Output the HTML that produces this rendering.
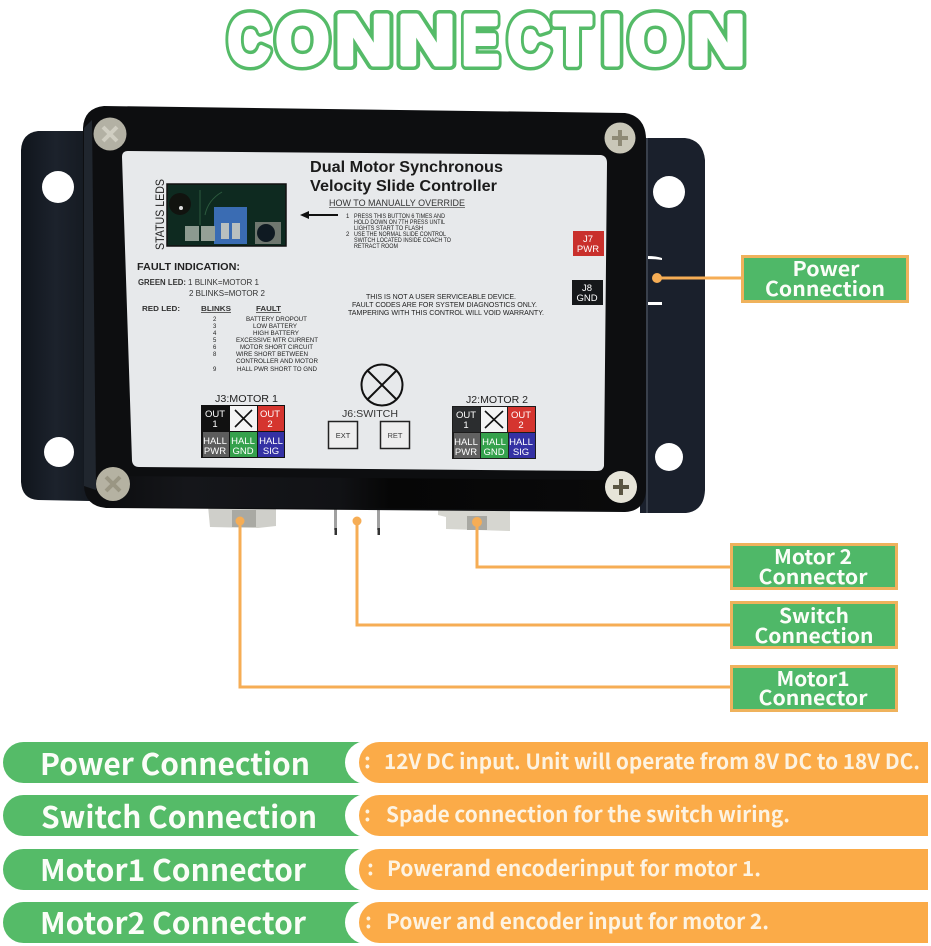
<!DOCTYPE html>
<html><head><meta charset="utf-8">
<style>
html,body{margin:0;padding:0;background:#fff;width:931px;height:946px;overflow:hidden}
svg{display:block}
text{font-family:"Liberation Sans",sans-serif}
.n{font-family:"Noto Sans CJK SC","Liberation Sans",sans-serif;font-weight:700;fill:#fbfdf8}
.o{font-family:"Noto Sans CJK SC","Liberation Sans",sans-serif;font-weight:700;fill:#fdf3e2;font-size:21px}
.t1{font-family:"Liberation Sans",sans-serif;font-weight:700;font-size:70px;fill:#55bb68;stroke:#55bb68;stroke-width:12;stroke-linejoin:round}
.t2{font-family:"Liberation Sans",sans-serif;font-weight:700;font-size:70px;fill:#fff;stroke:#fff;stroke-width:5;stroke-linejoin:round}
.s{font-size:6px;fill:#222}
.c{font-size:9.5px;fill:#fff;text-anchor:middle}
</style></head><body>
<svg width="931" height="946" viewBox="0 0 931 946" xmlns="http://www.w3.org/2000/svg">
<defs>
<linearGradient id="band" x1="0" y1="0" x2="1" y2="0">
<stop offset="0" stop-color="#0d0e10"/><stop offset="0.15" stop-color="#15161a"/><stop offset="0.45" stop-color="#111215"/><stop offset="0.55" stop-color="#060606"/><stop offset="1" stop-color="#0a0a0b"/>
</linearGradient>
<linearGradient id="lp" x1="0" y1="0" x2="1" y2="0">
<stop offset="0" stop-color="#10151c"/><stop offset="0.5" stop-color="#1c222c"/><stop offset="1" stop-color="#141920"/>
</linearGradient>
</defs>
<rect width="931" height="946" fill="#fff"/>

<!-- title -->
<g id="title">
<text class="t1" x="228" y="64" textLength="42" lengthAdjust="spacingAndGlyphs">C</text><text class="t2" x="228" y="64" textLength="42" lengthAdjust="spacingAndGlyphs">C</text>
<text class="t1" x="276" y="64" textLength="53" lengthAdjust="spacingAndGlyphs">O</text><text class="t2" x="276" y="64" textLength="53" lengthAdjust="spacingAndGlyphs">O</text>
<text class="t1" x="335" y="64" textLength="57" lengthAdjust="spacingAndGlyphs">N</text><text class="t2" x="335" y="64" textLength="57" lengthAdjust="spacingAndGlyphs">N</text>
<text class="t1" x="398" y="64" textLength="57" lengthAdjust="spacingAndGlyphs">N</text><text class="t2" x="398" y="64" textLength="57" lengthAdjust="spacingAndGlyphs">N</text>
<text class="t1" x="462" y="64" textLength="37" lengthAdjust="spacingAndGlyphs">E</text><text class="t2" x="462" y="64" textLength="37" lengthAdjust="spacingAndGlyphs">E</text>
<text class="t1" x="508" y="64" textLength="42" lengthAdjust="spacingAndGlyphs">C</text><text class="t2" x="508" y="64" textLength="42" lengthAdjust="spacingAndGlyphs">C</text>
<text class="t1" x="554" y="64" textLength="37" lengthAdjust="spacingAndGlyphs">T</text><text class="t2" x="554" y="64" textLength="37" lengthAdjust="spacingAndGlyphs">T</text>
<text class="t1" x="602" y="64" textLength="20" lengthAdjust="spacingAndGlyphs">I</text><text class="t2" x="602" y="64" textLength="20" lengthAdjust="spacingAndGlyphs">I</text>
<text class="t1" x="629" y="64" textLength="53" lengthAdjust="spacingAndGlyphs">O</text><text class="t2" x="629" y="64" textLength="53" lengthAdjust="spacingAndGlyphs">O</text>
<text class="t1" x="690" y="64" textLength="55" lengthAdjust="spacingAndGlyphs">N</text><text class="t2" x="690" y="64" textLength="55" lengthAdjust="spacingAndGlyphs">N</text>
</g>

<!-- connectors under the box -->
<polygon points="208,506 276,506 276,526 258,528 210,527" fill="#cfcfca"/>
<rect x="232" y="510" width="24" height="17" fill="#a9a9a3"/>
<polygon points="438,510 510,510 510,531 446,529 446,517 438,515" fill="#d6d6d0"/>
<rect x="467" y="516" width="20" height="14" fill="#a8a8a2"/>
<rect x="334" y="508" width="3" height="22" fill="#a0a0a0"/>
<rect x="377" y="508" width="3" height="22" fill="#a0a0a0"/>
<rect x="334.5" y="528" width="2.5" height="7" fill="#333"/>
<rect x="377.5" y="528" width="2.5" height="7" fill="#333"/>

<!-- mounting plate -->
<path d="M90,131 L38,131 Q22,133 21,150 L21,482 Q22,499 38,500 L90,501 Z" fill="url(#lp)"/>
<path d="M640,138 L685,138 Q703,140 705,160 L705,490 Q704,511 686,513 L640,513 Z" fill="#1a202c"/>
<circle cx="58" cy="187" r="16" fill="#fff"/>
<circle cx="669" cy="192" r="16" fill="#fff"/>
<circle cx="59" cy="452" r="15" fill="#fff"/>
<circle cx="669" cy="457" r="14" fill="#fff"/>
<path d="M648,256 Q656,256 662,258 L662,260 Q656,259 648,259 Z" fill="#fff"/>
<path d="M648,302 Q656,302 662,302 L662,305 Q656,305 648,305 Z" fill="#fff"/>
<rect x="646" y="138" width="2" height="375" fill="#39404c"/>

<!-- main box -->
<path d="M104,106 L625,113 Q645,116 646,138 L646,490 Q645,511 625,512 L106,508 Q85,506 84,486 L83,128 Q84,108 104,106 Z" fill="#0d0e10"/>
<path d="M84,128 L84,486 L96,490 L92,120 Z" fill="#20262e"/>
<path d="M110,476 L620,480 L620,510 L110,507 Z" fill="url(#band)"/>

<!-- label -->
<path d="M128,151 L601,155 Q607,156 607,163 L604,466 Q603,471 597,471 L139,467 Q133,467 132,461 L122,157 Q122,151 128,151 Z" fill="#e7e9eb"/>

<!-- screws -->
<g>
<circle cx="110" cy="134" r="16.5" fill="#b3b1a4"/>
<path d="M103,127 L117,141 M117,127 L103,141" stroke="#d0cec2" stroke-width="4"/>
<circle cx="620" cy="138" r="15.5" fill="#c9c7b8"/>
<path d="M612,138 H628 M620,130 V146" stroke="#8e8a76" stroke-width="4"/>
<circle cx="113" cy="484" r="17" fill="#b5b2a2"/>
<path d="M106,477 L120,491 M120,477 L106,491" stroke="#9a9683" stroke-width="4"/>
<circle cx="621" cy="487" r="16" fill="#e6e4d8"/>
<path d="M613,487 H629 M621,479 V495" stroke="#5a5542" stroke-width="4"/>
</g>

<!-- PCB photo -->
<rect x="167" y="184" width="119" height="62" fill="#0e2a20"/>
<rect x="167" y="184" width="119" height="62" fill="none" stroke="#111" stroke-width="1.5"/>
<circle cx="180" cy="204" r="11" fill="#11130f"/>
<circle cx="181" cy="208" r="2" fill="#ddd"/>
<path d="M200,190 V225 M205,215 Q208,200 222,192" stroke="#2c5a3e" fill="none"/>
<rect x="214" y="207" width="33" height="37" fill="#3a6cb3"/>
<rect x="221" y="223" width="8" height="16" fill="#b9c0bf"/>
<rect x="232" y="223" width="8" height="16" fill="#b9c0bf"/>
<rect x="185" y="226" width="14" height="15" fill="#8c9a90"/>
<rect x="201" y="226" width="14" height="15" fill="#95a096"/>
<rect x="255" y="222" width="26" height="22" fill="#6f776f"/>
<circle cx="266" cy="233" r="9" fill="#0f1a22"/>
<text x="0" y="0" transform="translate(164,250) rotate(-90)" font-size="11.5" fill="#222" textLength="71" lengthAdjust="spacingAndGlyphs">STATUS LEDS</text>

<!-- label text -->
<text x="310" y="172" font-size="16" font-weight="700" fill="#1b1b1b" textLength="193" lengthAdjust="spacingAndGlyphs">Dual Motor Synchronous</text>
<text x="310" y="191" font-size="16" font-weight="700" fill="#1b1b1b" textLength="187" lengthAdjust="spacingAndGlyphs">Velocity Slide Controller</text>
<text x="329" y="206" font-size="9.5" fill="#333" textLength="136" lengthAdjust="spacingAndGlyphs">HOW TO MANUALLY OVERRIDE</text>
<line x1="329" y1="207.5" x2="465" y2="207.5" stroke="#555" stroke-width="0.7"/>
<path d="M338,215 H305" stroke="#111" stroke-width="2"/><path d="M300,215 L309,211 L309,219 Z" fill="#111"/>
<text class="s" x="346" y="218">1</text>
<text class="s" x="354" y="218" textLength="91" lengthAdjust="spacingAndGlyphs">PRESS THIS BUTTON 6 TIMES AND</text>
<text class="s" x="354" y="224" textLength="91" lengthAdjust="spacingAndGlyphs">HOLD DOWN ON 7TH PRESS UNTIL</text>
<text class="s" x="354" y="230" textLength="69" lengthAdjust="spacingAndGlyphs">LIGHTS START TO FLASH</text>
<text class="s" x="346" y="236">2</text>
<text class="s" x="354" y="236" textLength="92" lengthAdjust="spacingAndGlyphs">USE THE NORMAL SLIDE CONTROL</text>
<text class="s" x="354" y="242" textLength="97" lengthAdjust="spacingAndGlyphs">SWITCH LOCATED INSIDE COACH TO</text>
<text class="s" x="354" y="248" textLength="44" lengthAdjust="spacingAndGlyphs">RETRACT ROOM</text>

<text x="137" y="270" font-size="10.5" font-weight="700" fill="#222" textLength="103" lengthAdjust="spacingAndGlyphs">FAULT INDICATION:</text>
<text x="138" y="285" font-size="8" font-weight="700" fill="#333" textLength="48" lengthAdjust="spacingAndGlyphs">GREEN LED:</text>
<text x="188" y="285" font-size="8" fill="#333" textLength="71" lengthAdjust="spacingAndGlyphs">1 BLINK=MOTOR 1</text>
<text x="189" y="296" font-size="8" fill="#333" textLength="76" lengthAdjust="spacingAndGlyphs">2 BLINKS=MOTOR 2</text>
<text x="142" y="311" font-size="7.5" font-weight="700" fill="#333" textLength="38" lengthAdjust="spacingAndGlyphs">RED LED:</text>
<text x="201" y="311" font-size="7.5" font-weight="700" fill="#333" textLength="30" lengthAdjust="spacingAndGlyphs" text-decoration="underline">BLINKS</text>
<text x="256" y="311" font-size="7.5" font-weight="700" fill="#333" textLength="25" lengthAdjust="spacingAndGlyphs" text-decoration="underline">FAULT</text>
<g class="rows">
<text class="s" x="213" y="321">2</text><text class="s" x="246" y="321" textLength="61" lengthAdjust="spacingAndGlyphs">BATTERY DROPOUT</text>
<text class="s" x="213" y="328">3</text><text class="s" x="253" y="328" textLength="44" lengthAdjust="spacingAndGlyphs">LOW BATTERY</text>
<text class="s" x="213" y="335">4</text><text class="s" x="253" y="335" textLength="46" lengthAdjust="spacingAndGlyphs">HIGH BATTERY</text>
<text class="s" x="213" y="342">5</text><text class="s" x="236" y="342" textLength="82" lengthAdjust="spacingAndGlyphs">EXCESSIVE MTR CURRENT</text>
<text class="s" x="213" y="349">6</text><text class="s" x="240" y="349" textLength="73" lengthAdjust="spacingAndGlyphs">MOTOR SHORT CIRCUIT</text>
<text class="s" x="213" y="356">8</text><text class="s" x="236" y="356" textLength="72" lengthAdjust="spacingAndGlyphs">WIRE SHORT BETWEEN</text>
<text class="s" x="236" y="363" textLength="82" lengthAdjust="spacingAndGlyphs">CONTROLLER AND MOTOR</text>
<text class="s" x="213" y="371">9</text><text class="s" x="237" y="371" textLength="80" lengthAdjust="spacingAndGlyphs">HALL PWR SHORT TO GND</text>
</g>
<text x="366" y="299" font-size="7" fill="#222" textLength="150" lengthAdjust="spacingAndGlyphs">THIS IS NOT A USER SERVICEABLE DEVICE.</text>
<text x="352" y="307" font-size="7" fill="#222" textLength="185" lengthAdjust="spacingAndGlyphs">FAULT CODES ARE FOR SYSTEM DIAGNOSTICS ONLY.</text>
<text x="348" y="315" font-size="7" fill="#222" textLength="196" lengthAdjust="spacingAndGlyphs">TAMPERING WITH THIS CONTROL WILL VOID WARRANTY.</text>

<!-- J7 / J8 -->
<rect x="573" y="231" width="31" height="25" fill="#c9302c"/>
<text class="c" x="588" y="242">J7</text><text class="c" x="588" y="252">PWR</text>
<rect x="572" y="280" width="31" height="25" fill="#16181a"/>
<text class="c" x="587" y="291">J8</text><text class="c" x="587" y="301">GND</text>

<!-- lamp symbol -->
<circle cx="382" cy="385" r="20.5" fill="none" stroke="#111" stroke-width="2"/>
<path d="M368,371 L396,399 M396,371 L368,399" stroke="#111" stroke-width="2"/>

<!-- J3 -->
<text x="215" y="402" font-size="10.5" fill="#222" textLength="63" lengthAdjust="spacingAndGlyphs">J3:MOTOR 1</text>
<rect x="201" y="405" width="84" height="53" fill="#111"/>
<rect x="230" y="406" width="27" height="25" fill="#f4f4f4"/>
<path d="M235,410 L252,427 M252,410 L235,427" stroke="#111" stroke-width="1.6"/>
<rect x="258" y="406" width="26" height="25" fill="#d5352f"/>
<rect x="203" y="432" width="26" height="25" fill="#5d5d5d"/>
<rect x="230" y="432" width="27" height="25" fill="#35a14c"/>
<rect x="258" y="432" width="26" height="25" fill="#3431a4"/>
<text class="c" x="215" y="417">OUT</text><text class="c" x="215" y="427">1</text>
<text class="c" x="270" y="417">OUT</text><text class="c" x="270" y="427">2</text>
<text class="c" x="215" y="444">HALL</text><text class="c" x="215" y="454">PWR</text>
<text class="c" x="243" y="444">HALL</text><text class="c" x="243" y="454">GND</text>
<text class="c" x="271" y="444">HALL</text><text class="c" x="271" y="454">SIG</text>

<!-- J6 -->
<text x="342" y="417" font-size="10.5" fill="#333" textLength="56" lengthAdjust="spacingAndGlyphs">J6:SWITCH</text>
<rect x="328.5" y="421.5" width="29" height="27" fill="#eee" stroke="#222" stroke-width="1.5"/>
<rect x="380.5" y="421.5" width="29" height="27" fill="#eee" stroke="#222" stroke-width="1.5"/>
<text x="343" y="438" font-size="7.5" fill="#333" text-anchor="middle">EXT</text>
<text x="395" y="438" font-size="7.5" fill="#444" text-anchor="middle">RET</text>

<!-- J2 -->
<text x="466" y="403" font-size="10.5" fill="#222" textLength="62" lengthAdjust="spacingAndGlyphs">J2:MOTOR 2</text>
<rect x="452" y="406" width="84" height="53" fill="#1c1c1c"/>
<rect x="453" y="407" width="27" height="25" fill="#2b2d2f"/>
<rect x="481" y="407" width="26" height="25" fill="#f4f4f4"/>
<path d="M485,411 L503,428 M503,411 L485,428" stroke="#111" stroke-width="1.6"/>
<rect x="508" y="407" width="27" height="25" fill="#d5352f"/>
<rect x="454" y="433" width="26" height="25" fill="#616161"/>
<rect x="481" y="433" width="27" height="25" fill="#35a14c"/>
<rect x="509" y="433" width="26" height="25" fill="#3431a4"/>
<text class="c" x="466" y="418">OUT</text><text class="c" x="466" y="428">1</text>
<text class="c" x="521" y="418">OUT</text><text class="c" x="521" y="428">2</text>
<text class="c" x="466" y="445">HALL</text><text class="c" x="466" y="455">PWR</text>
<text class="c" x="494" y="445">HALL</text><text class="c" x="494" y="455">GND</text>
<text class="c" x="521" y="445">HALL</text><text class="c" x="521" y="455">SIG</text>

<!-- connector lines -->
<g fill="none" stroke="#f6ad55" stroke-width="3">
<path d="M657,278 H742"/>
<path d="M477,522 V567 H731"/>
<path d="M357,521 V625 H731"/>
<path d="M240,521 V687 H731"/>
</g>
<g fill="#f6ad55">
<circle cx="657" cy="278" r="5"/>
<circle cx="477" cy="522" r="5"/>
<circle cx="357" cy="521" r="4.5"/>
<circle cx="240" cy="521" r="4.5"/>
</g>

<!-- callouts -->
<g fill="#4fb868" stroke="#efb25c" stroke-width="3">
<rect x="742.5" y="256.5" width="165" height="45"/>
<rect x="731.5" y="544.5" width="165" height="44"/>
<rect x="731.5" y="602.5" width="165" height="45"/>
<rect x="731.5" y="666.5" width="165" height="44"/>
</g>
<g class="callout" text-anchor="middle">
<text class="n" x="826" y="276" font-size="20" textLength="67" lengthAdjust="spacingAndGlyphs">Power</text>
<text class="n" x="825" y="296" font-size="20" textLength="120" lengthAdjust="spacingAndGlyphs">Connection</text>
<text class="n" x="813" y="564" font-size="20" textLength="78" lengthAdjust="spacingAndGlyphs">Motor 2</text>
<text class="n" x="813" y="584" font-size="20" textLength="109" lengthAdjust="spacingAndGlyphs">Connector</text>
<text class="n" x="814" y="623" font-size="20" textLength="70" lengthAdjust="spacingAndGlyphs">Switch</text>
<text class="n" x="814" y="643" font-size="20" textLength="119" lengthAdjust="spacingAndGlyphs">Connection</text>
<text class="n" x="813" y="686" font-size="20" textLength="73" lengthAdjust="spacingAndGlyphs">Motor1</text>
<text class="n" x="813" y="705" font-size="20" textLength="109" lengthAdjust="spacingAndGlyphs">Connector</text>
</g>

<!-- bottom bars -->
<g>
<rect x="3" y="742" width="375" height="41" rx="20.5" fill="#55bb68"/>
<rect x="3" y="795" width="375" height="41" rx="20.5" fill="#55bb68"/>
<rect x="3" y="849" width="375" height="41" rx="20.5" fill="#55bb68"/>
<rect x="3" y="902" width="375" height="41" rx="20.5" fill="#55bb68"/>
<rect x="345" y="741" width="60" height="43" rx="21.5" fill="#fff"/>
<rect x="345" y="794" width="60" height="43" rx="21.5" fill="#fff"/>
<rect x="345" y="848" width="60" height="43" rx="21.5" fill="#fff"/>
<rect x="345" y="901" width="60" height="43" rx="21.5" fill="#fff"/>
<path d="M928,742 H379.5 A20.5,20.5 0 0 0 379.5,783 H928 Z" fill="#fbab48"/>
<path d="M928,795 H379.5 A20.5,20.5 0 0 0 379.5,836 H928 Z" fill="#fbab48"/>
<path d="M928,849 H379.5 A20.5,20.5 0 0 0 379.5,890 H928 Z" fill="#fbab48"/>
<path d="M928,902 H379.5 A20.5,20.5 0 0 0 379.5,943 H928 Z" fill="#fbab48"/>
</g>
<text class="n" x="40" y="775" font-size="30" textLength="270" lengthAdjust="spacingAndGlyphs">Power Connection</text>
<text class="n" x="41" y="828" font-size="30" textLength="276" lengthAdjust="spacingAndGlyphs">Switch Connection</text>
<text class="n" x="40" y="881" font-size="30" textLength="266" lengthAdjust="spacingAndGlyphs">Motor1 Connector</text>
<text class="n" x="40" y="934" font-size="30" textLength="266" lengthAdjust="spacingAndGlyphs">Motor2 Connector</text>

<text class="o" x="364" y="768">:</text>
<text class="o" x="364" y="821">:</text>
<text class="o" x="367" y="875">:</text>
<text class="o" x="365" y="928">:</text>
<text class="o" x="384" y="769" textLength="536" lengthAdjust="spacingAndGlyphs">12V DC input. Unit will operate from 8V DC to 18V DC.</text>
<text class="o" x="386" y="822" textLength="404" lengthAdjust="spacingAndGlyphs">Spade connection for the switch wiring.</text>
<text class="o" x="387" y="876" textLength="374" lengthAdjust="spacingAndGlyphs">Powerand encoderinput for motor 1.</text>
<text class="o" x="386" y="929" textLength="383" lengthAdjust="spacingAndGlyphs">Power and encoder input for motor 2.</text>
</svg>
</body></html>
